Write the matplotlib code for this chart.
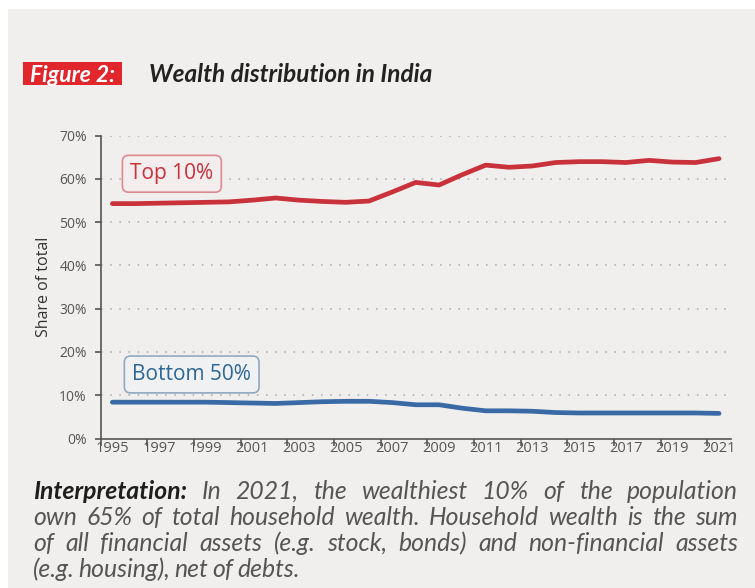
import matplotlib
matplotlib.use('Agg')
import matplotlib.pyplot as plt
from matplotlib.patches import Rectangle

# データ（世帯資産のシェア, %）
years = list(range(1995, 2022))
top10 = [54.3, 54.3, 54.4, 54.5, 54.6, 54.7, 55.1, 55.6, 55.1, 54.8,
         54.6, 54.9, 57.0, 59.2, 58.6, 61.0, 63.2, 62.7, 63.0, 63.8,
         64.0, 64.0, 63.8, 64.3, 63.9, 63.8, 64.7]
bottom50 = [8.4, 8.4, 8.4, 8.4, 8.4, 8.3, 8.2, 8.1, 8.3, 8.5,
            8.6, 8.6, 8.3, 7.8, 7.8, 7.0, 6.4, 6.4, 6.3, 6.0,
            5.9, 5.9, 5.9, 5.9, 5.9, 5.9, 5.8]
ytick_vals = [0, 10, 20, 30, 40, 50, 60, 70]
xtick_labels = [str(y) for y in range(1995, 2022, 2)]

W, H = 755, 588
BG = '#F0EFED'
RED = '#C9313B'
BLUE = '#3A6AA6'
GREY = '#555555'
LATO = ['Lato', 'DejaVu Sans']

plt.rcParams['font.family'] = ['Open Sans', 'DejaVu Sans']

fig = plt.figure(figsize=(W / 100, H / 100), dpi=100)
fig.patch.set_facecolor('white')
# 背景パネル
fig.add_artist(Rectangle((8 / W, 0), 1, 1 - 9 / H, transform=fig.transFigure,
                         facecolor=BG, edgecolor='none', zorder=-10))

# タイトル
fig.add_artist(Rectangle((23 / W, 1 - 84.5 / H), 99 / W, 22 / H,
                         transform=fig.transFigure, facecolor='#E1262C',
                         edgecolor='none', zorder=1))
fig.text(72.5 / W, 1 - 81.5 / H, 'Figure 2:', ha='center', va='baseline',
         fontsize=16.5, fontweight='bold', fontstyle='italic', color='white',
         family=LATO, zorder=2)
fig.text(149 / W, 1 - 81.5 / H, 'Wealth distribution in India', ha='left',
         va='baseline', fontsize=17.6, fontweight='bold', fontstyle='italic',
         color='#222222', family=LATO)

ax = fig.add_axes([100.7 / W, 1 - 438.5 / H, 630 / W, 302.8 / H])
ax.set_facecolor(BG)
ax.set_xlim(1994.5, 2021.5)
ax.set_ylim(0, 70)

for v in ytick_vals[1:]:
    ax.axhline(v, color='#A8A8A8', lw=1.1, ls=(0, (1, 5)), zorder=1)

ax.plot(years, top10, color=RED, lw=3.4, solid_capstyle='round', zorder=3)
ax.plot(years, bottom50, color=BLUE, lw=3.4, solid_capstyle='round', zorder=3)

for s in ['top', 'right']:
    ax.spines[s].set_visible(False)
for s in ['left', 'bottom']:
    ax.spines[s].set_color(GREY)
    ax.spines[s].set_linewidth(1.2)

ax.set_yticks(ytick_vals)
ax.set_yticklabels([f'{v}%' for v in ytick_vals])
ax.tick_params(axis='y', length=4, width=1.2, color=GREY, labelcolor=GREY,
               labelsize=10, pad=6)
# 目盛り線は2年おきの区切り、ラベルは奇数年
ax.set_xticks([y + 0.5 for y in range(1994, 2021, 2)])
ax.set_xticklabels([])
ax.tick_params(axis='x', which='major', length=5, width=1.2, color=GREY)
ax.set_xticks(list(range(1995, 2022, 2)), minor=True)
ax.set_xticklabels(xtick_labels, minor=True)
ax.tick_params(axis='x', which='minor', length=0, labelcolor=GREY,
               labelsize=10.5, pad=2)

ax.set_ylabel('Share of total', fontsize=11.5, color='#333333', labelpad=5)

ax.text(1997.55, 61.2, 'Top 10%', ha='center', va='center', fontsize=15,
        color=RED, zorder=4,
        bbox=dict(boxstyle='round,pad=0.38,rounding_size=0.3',
                  facecolor='#F3EDED', edgecolor='#DD8A90', lw=1.2))
ax.text(1998.4, 14.8, 'Bottom 50%', ha='center', va='center', fontsize=15,
        color='#2D6796', zorder=4,
        bbox=dict(boxstyle='round,pad=0.38,rounding_size=0.3',
                  facecolor='#EFF1F3', edgecolor='#8FA9C2', lw=1.2))

# 解説文（両端揃え）
lines = [
    [('Interpretation:', 'bold')] + [(w, 'normal') for w in
        'In 2021, the wealthiest 10% of the population'.split()],
    [(w, 'normal') for w in
        'own 65% of total household wealth. Household wealth is the sum'.split()],
    [(w, 'normal') for w in
        'of all financial assets (e.g. stock, bonds) and non-financial assets'.split()],
    [(w, 'normal') for w in '(e.g. housing), net of debts.'.split()],
]
x0, x1 = 33, 738
line_y = [499, 525, 551, 577]
renderer = fig.canvas.get_renderer()
for i, words in enumerate(lines):
    arts = []
    for w, wt in words:
        t = fig.text(0, 1 - line_y[i] / H, w, ha='left', va='baseline',
                     fontsize=17.8, fontstyle='italic', fontweight=wt,
                     color='#1E1E1E' if wt == 'bold' else '#555555',
                     family=LATO)
        arts.append(t)
    widths = [a.get_window_extent(renderer).width for a in arts]
    if i < len(lines) - 1:
        gap = (x1 - x0 - sum(widths)) / (len(arts) - 1)
    else:
        gap = 4
    x = x0
    for a, wd in zip(arts, widths):
        a.set_x(x / W)
        x += wd + gap

fig.savefig('out.png', dpi=100, facecolor='white')
